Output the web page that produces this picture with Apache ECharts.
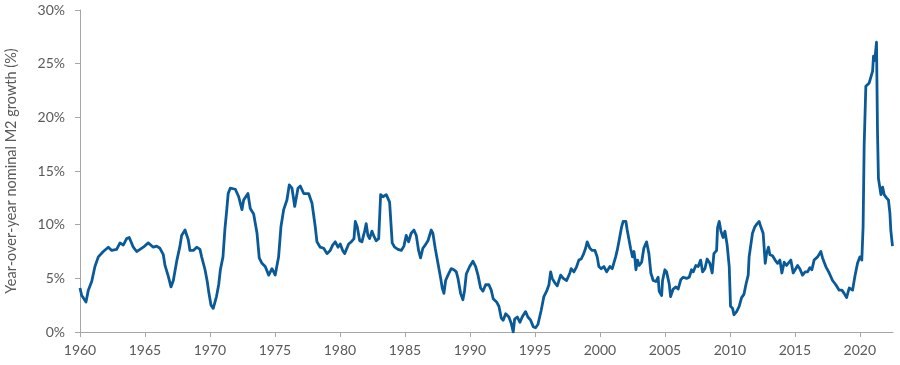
<!DOCTYPE html>
<html>
<head>
<meta charset="utf-8">
<script src="https://cdn.jsdelivr.net/npm/echarts@6/dist/echarts.min.js"></script>
<style>
  html, body { margin: 0; padding: 0; background: #fff; }
  #chart { width: 900px; height: 365px; }
</style>
</head>
<body>
<div id="chart"></div>
<script>
// year-over-year nominal M2 growth (%), [year, value]
var m2_1960s = [
  [1960.00, 4.1], [1960.13, 3.4], [1960.25, 3.2], [1960.46, 2.8], [1960.64, 3.9], [1960.90, 4.7],
  [1961.15, 6.1], [1961.41, 7.0], [1961.54, 6.9], [1961.79, 7.5], [1962.18, 7.9], [1962.44, 7.6],
  [1962.82, 7.7], [1963.08, 8.3], [1963.33, 8.1], [1963.59, 8.7], [1963.79, 8.8], [1964.10, 7.9],
  [1964.36, 7.5], [1964.62, 7.7], [1964.87, 7.9], [1965.25, 8.3], [1965.64, 7.9], [1965.90, 8.0],
  [1966.15, 7.8], [1966.41, 7.2], [1966.54, 6.2], [1966.79, 5.2], [1967.00, 4.2], [1967.18, 4.8],
  [1967.44, 6.6], [1967.69, 8.0], [1967.82, 9.0], [1968.08, 9.5], [1968.33, 8.6], [1968.46, 7.6],
  [1968.72, 7.6], [1968.98, 7.9], [1969.23, 7.7], [1969.36, 7.0], [1969.62, 5.8], [1969.79, 4.7],
  [1969.92, 3.6]
];
var m2_1970s = [
  [1970.08, 2.5], [1970.25, 2.2], [1970.50, 3.3], [1970.67, 4.4], [1970.80, 5.8], [1971.00, 7.0],
  [1971.15, 9.6], [1971.30, 11.5], [1971.40, 12.9], [1971.56, 13.4], [1971.95, 13.3], [1972.21, 12.6],
  [1972.46, 11.4], [1972.59, 12.3], [1972.92, 12.9], [1973.10, 11.5], [1973.36, 11.0], [1973.62, 9.2],
  [1973.79, 6.9], [1974.00, 6.4], [1974.25, 6.1], [1974.52, 5.3], [1974.77, 5.9], [1975.02, 5.3],
  [1975.28, 7.0], [1975.46, 9.8], [1975.67, 11.4], [1975.92, 12.3], [1976.10, 13.7], [1976.31, 13.4],
  [1976.52, 11.7], [1976.77, 13.4], [1976.95, 13.6], [1977.21, 12.9], [1977.59, 12.9], [1977.85, 12.0],
  [1978.10, 9.8], [1978.23, 8.4], [1978.48, 7.9], [1978.75, 7.8], [1979.00, 7.3], [1979.25, 7.6],
  [1979.44, 8.1], [1979.64, 8.4], [1979.85, 7.9]
];
var m2_1980s = [
  [1980.02, 8.2], [1980.21, 7.6], [1980.36, 7.3], [1980.67, 8.2], [1980.87, 8.4], [1981.08, 8.7],
  [1981.18, 10.3], [1981.33, 9.8], [1981.52, 8.5], [1981.69, 8.4], [1981.90, 9.4], [1982.02, 10.1],
  [1982.15, 9.0], [1982.28, 8.7], [1982.46, 9.4], [1982.62, 8.9], [1982.79, 8.5], [1982.98, 8.7],
  [1983.13, 12.8], [1983.31, 12.6], [1983.56, 12.8], [1983.82, 12.1], [1984.02, 8.3], [1984.21, 7.9],
  [1984.46, 7.7], [1984.72, 7.6], [1984.92, 8.0], [1985.10, 9.0], [1985.28, 8.4], [1985.48, 9.2],
  [1985.69, 9.5], [1985.87, 9.0], [1986.05, 7.6], [1986.20, 6.9], [1986.38, 7.8], [1986.56, 8.1],
  [1986.77, 8.5], [1987.02, 9.5], [1987.15, 9.2], [1987.33, 7.8], [1987.54, 6.4], [1987.75, 5.0],
  [1987.87, 4.1], [1988.00, 3.6], [1988.13, 4.8], [1988.31, 5.3], [1988.56, 5.9], [1988.77, 5.8],
  [1988.95, 5.6], [1989.08, 5.0], [1989.28, 3.6], [1989.46, 3.0], [1989.59, 3.9], [1989.72, 5.4],
  [1989.98, 6.1]
];
var m2_1990s = [
  [1990.23, 6.6], [1990.44, 6.1], [1990.62, 5.3], [1990.82, 4.1], [1991.00, 3.8], [1991.21, 4.4],
  [1991.46, 4.4], [1991.64, 3.9], [1991.79, 3.1], [1992.05, 2.8], [1992.23, 2.4], [1992.41, 1.3],
  [1992.56, 1.1], [1992.75, 1.7], [1992.87, 1.7], [1993.00, 1.4], [1993.18, 0.8], [1993.33, 0.0],
  [1993.44, 1.2], [1993.64, 1.4], [1993.85, 0.9], [1994.02, 1.4], [1994.28, 1.9], [1994.46, 1.4],
  [1994.67, 1.1], [1994.87, 0.5], [1995.05, 0.4], [1995.23, 0.7], [1995.38, 0.8], [1995.48, 2.0],
  [1995.69, 3.3], [1995.90, 3.8], [1996.08, 4.4], [1996.21, 5.6], [1996.33, 5.0], [1996.52, 4.6],
  [1996.72, 4.3], [1996.98, 5.3], [1997.18, 5.0], [1997.44, 4.8], [1997.69, 5.5], [1997.79, 5.9],
  [1998.00, 5.6], [1998.21, 6.1], [1998.38, 6.7], [1998.56, 6.8], [1998.72, 7.2], [1998.90, 7.8],
  [1999.02, 8.4], [1999.23, 7.8], [1999.41, 7.6], [1999.62, 7.6], [1999.79, 7.0], [1999.92, 6.1]
];
var m2_2000s = [
  [2000.10, 5.9], [2000.31, 6.1], [2000.52, 5.6], [2000.77, 6.1], [2000.95, 5.9], [2001.21, 7.0],
  [2001.33, 7.6], [2001.46, 8.4], [2001.59, 8.5], [2001.67, 9.8], [2001.79, 10.3], [2002.00, 10.3],
  [2002.10, 9.5], [2002.25, 9.4], [2002.36, 7.8], [2002.51, 7.0], [2002.62, 7.5], [2002.69, 6.9],
  [2002.77, 5.8], [2002.90, 6.7], [2003.02, 6.2], [2003.21, 6.5], [2003.38, 7.8], [2003.59, 8.4],
  [2003.77, 7.3], [2003.92, 5.5], [2004.10, 4.8], [2004.31, 4.7], [2004.48, 5.1], [2004.56, 3.8],
  [2004.75, 3.4], [2004.82, 4.8], [2005.00, 5.8], [2005.13, 5.6], [2005.33, 4.5], [2005.44, 3.3],
  [2005.64, 4.0], [2005.85, 4.2], [2006.02, 4.0], [2006.23, 4.9], [2006.41, 5.1], [2006.67, 5.0],
  [2006.87, 5.1], [2007.05, 5.8], [2007.18, 5.6], [2007.38, 6.2], [2007.56, 6.1], [2007.75, 6.7],
  [2007.90, 5.6], [2008.08, 5.9], [2008.25, 6.8], [2008.46, 6.4], [2008.64, 5.5], [2008.77, 7.3],
  [2008.98, 7.6], [2009.05, 9.7], [2009.18, 10.3], [2009.31, 9.4], [2009.48, 8.8], [2009.62, 9.4],
  [2009.79, 8.1], [2009.95, 6.1]
];
var m2_2010s = [
  [2010.05, 2.4], [2010.21, 2.2], [2010.31, 1.6], [2010.52, 1.9], [2010.72, 2.4], [2010.90, 3.2],
  [2011.08, 3.5], [2011.23, 4.4], [2011.41, 5.3], [2011.48, 7.0], [2011.62, 8.2], [2011.74, 9.2],
  [2011.92, 9.8], [2012.10, 10.1], [2012.25, 10.3], [2012.38, 9.8], [2012.56, 9.2], [2012.72, 6.4],
  [2012.82, 7.3], [2012.97, 7.9], [2013.08, 7.2], [2013.28, 7.1], [2013.48, 6.7], [2013.67, 6.4],
  [2013.85, 6.7], [2014.00, 5.5], [2014.18, 6.5], [2014.36, 6.2], [2014.56, 6.5], [2014.69, 6.7],
  [2014.87, 5.5], [2015.02, 5.8], [2015.21, 6.2], [2015.38, 5.9], [2015.59, 5.3], [2015.79, 5.6],
  [2015.98, 5.6], [2016.15, 6.0], [2016.31, 5.8], [2016.48, 6.7], [2016.75, 7.0], [2017.00, 7.5],
  [2017.13, 6.9], [2017.38, 6.1], [2017.64, 5.5], [2017.90, 4.8], [2018.15, 4.4], [2018.41, 3.9],
  [2018.62, 3.9], [2018.79, 3.6], [2018.98, 3.2], [2019.18, 4.1], [2019.44, 3.9], [2019.62, 5.2],
  [2019.82, 6.4]
];
var m2_2020s = [
  [2020.00, 7.0], [2020.15, 6.7], [2020.25, 9.8], [2020.33, 17.3], [2020.46, 22.9], [2020.72, 23.2],
  [2020.98, 24.3], [2021.05, 25.7], [2021.15, 25.3], [2021.28, 27.0], [2021.36, 18.5], [2021.43, 14.3],
  [2021.62, 12.8], [2021.75, 13.5], [2021.87, 12.8], [2022.05, 12.5], [2022.20, 12.3], [2022.31, 11.1],
  [2022.38, 9.5], [2022.51, 8.0]
];

var yearTicks = [1960, 1965, 1970, 1975, 1980, 1985, 1990, 1995, 2000, 2005, 2010, 2015, 2020];
var pctTicks = [0, 5, 10, 15, 20, 25, 30];
var yName = 'Year-over-year nominal M2 growth (%)';

var m2Data = [].concat(m2_1960s, m2_1970s, m2_1980s, m2_1990s, m2_2000s, m2_2010s, m2_2020s);

var textColor = '#5a5a5a';
var axisColor = '#a6a6a6';
var fontFamily = 'Lato, "Open Sans", sans-serif';

var chart = echarts.init(document.getElementById('chart'), null, { renderer: 'canvas' });
chart.setOption({
  animation: false,
  grid: { left: 80, right: 7, top: 10, bottom: 33, containLabel: false, outerBoundsMode: 'none' },
  xAxis: {
    type: 'value',
    min: 1960,
    max: 2022.55,
    splitLine: { show: false },
    axisLine: { lineStyle: { color: axisColor, width: 1 } },
    axisTick: { show: true, length: 5, customValues: yearTicks, lineStyle: { color: axisColor } },
    axisLabel: {
      customValues: yearTicks,
      color: textColor,
      fontSize: 14,
      fontFamily: fontFamily,
      margin: 11,
      formatter: function (v) { return String(v); }
    }
  },
  yAxis: {
    type: 'value',
    min: pctTicks[0],
    max: pctTicks[pctTicks.length - 1],
    interval: 5,
    name: yName,
    nameLocation: 'middle',
    nameGap: 61,
    nameTextStyle: { color: textColor, fontSize: 14.5, fontFamily: fontFamily },
    splitLine: { show: false },
    axisLine: { show: true, lineStyle: { color: axisColor, width: 1 } },
    axisTick: { show: true, length: 5, lineStyle: { color: axisColor } },
    axisLabel: {
      color: textColor,
      fontSize: 14,
      fontFamily: fontFamily,
      margin: 15,
      formatter: '{value}%'
    }
  },
  series: [{
    type: 'line',
    data: m2Data,
    showSymbol: false,
    smooth: false,
    lineStyle: { color: '#0b5a98', width: 2.8, join: 'round' },
    itemStyle: { color: '#0b5a98' }
  }]
});
</script>
</body>
</html>
